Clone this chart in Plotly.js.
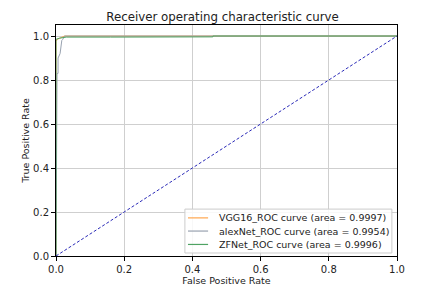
<!DOCTYPE html>
<html><head><meta charset="utf-8">
<script src="https://cdn.plot.ly/plotly-3.0.1.min.js"></script>
<style>html,body{margin:0;padding:0;background:#fff}</style>
</head><body>
<div id="chart" style="width:445px;height:302px"></div>
<script>
const vggFpr = [0, 0, 0.004, 0.012, 0.025, 1.0];
const vggTpr = [0, 0.975, 0.985, 0.99, 1.0, 1.0];
const alexFpr = [0, 0.002, 0.003, 0.006, 0.006, 0.012, 0.017, 0.02, 0.025, 1.0];
const alexTpr = [0, 0.70, 0.83, 0.83, 0.90, 0.92, 0.98, 0.985, 1.0, 1.0];
const zfFpr = [0, 0, 0.01, 0.03, 0.16, 0.46, 0.46, 1.0];
const zfTpr = [0, 0.985, 0.99, 0.995, 0.995, 0.996, 1.0, 1.0];
const diagX = [0, 1];
const diagY = [0, 1];
const names = ['VGG16_ROC curve (area = 0.9997)', 'alexNet_ROC curve (area = 0.9954)', 'ZFNet_ROC curve (area = 0.9996)'];
const colors = ['#ffa64d', '#98a2b0', '#4fa363'];

const series = [[vggFpr, vggTpr], [alexFpr, alexTpr], [zfFpr, zfTpr]];
const traces = series.map((s, i) => ({x: s[0], y: s[1], mode: 'lines', name: names[i], line: {color: colors[i], width: 1}}));
traces.push({x: diagX, y: diagY, mode: 'lines', name: 'chance', line: {color: '#2a2ab8', width: 1, dash: '3px,2px'}});

// legend drawn as a boxed key in the lower-right corner
const lx0 = 0.378, lx1 = 0.985, ly0 = 0.013, ly1 = 0.203;
const rowY = [0.165, 0.108, 0.05];
const shapes = [{type: 'rect', xref: 'paper', yref: 'paper', x0: lx0, x1: lx1, y0: ly0, y1: ly1,
  fillcolor: 'rgba(255,255,255,0.85)', line: {color: '#cccccc', width: 1}, layer: 'above'}];
const annotations = [];
names.forEach((n, i) => {
  shapes.push({type: 'line', xref: 'paper', yref: 'paper', x0: 0.387, x1: 0.446, y0: rowY[i], y1: rowY[i],
    line: {color: colors[i], width: 1.2}, layer: 'above'});
  annotations.push({xref: 'paper', yref: 'paper', x: 0.472, y: rowY[i], xanchor: 'left', yanchor: 'middle',
    text: n, showarrow: false, font: {size: 9.5, color: '#222'}});
});

const axisCommon = {
  showline: true, mirror: true, linecolor: '#000', linewidth: 1,
  ticks: 'outside', ticklen: 4, tickcolor: '#000',
  showgrid: true, gridcolor: '#cfcfcf', gridwidth: 1, zeroline: false,
  tickfont: {size: 10, color: '#222'}
};
const layout = {
  width: 445, height: 302,
  margin: {l: 56, r: 48, t: 25, b: 46},
  paper_bgcolor: '#fff', plot_bgcolor: '#fff',
  font: {family: 'DejaVu Sans', color: '#222'},
  title: {text: 'Receiver operating characteristic curve', font: {size: 11.8}, x: 0.5, xanchor: 'center', y: 0.945, yanchor: 'middle'},
  xaxis: Object.assign({}, axisCommon, {range: [0, 1], dtick: 0.2, tickformat: '.1f',
    title: {text: 'False Positive Rate', font: {size: 9.5}, standoff: 0}}),
  yaxis: Object.assign({}, axisCommon, {range: [0, 1.05], tickvals: [0, 0.2, 0.4, 0.6, 0.8, 1.0], tickformat: '.1f',
    title: {text: 'True Positive Rate', font: {size: 9.5}, standoff: 1}}),
  showlegend: false,
  shapes: shapes,
  annotations: annotations
};
Plotly.newPlot('chart', traces, layout, {displayModeBar: false, staticPlot: true});
</script>
</body></html>
